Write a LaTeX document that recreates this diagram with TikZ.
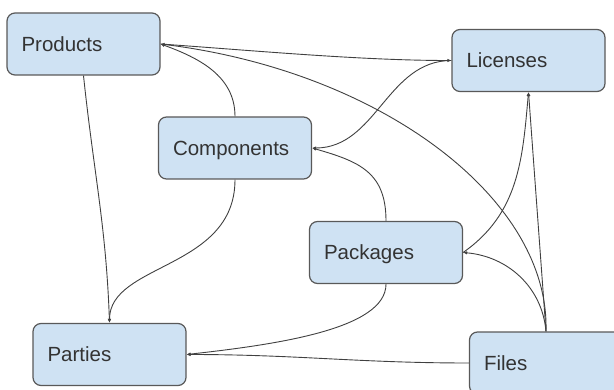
\documentclass[tikz,border=0pt]{standalone}
\usepackage{fontspec}
\setmainfont{Liberation Sans}
\usetikzlibrary{arrows.meta}
\definecolor{boxfill}{HTML}{CFE2F3}
\definecolor{boxline}{HTML}{595959}
\definecolor{linkcol}{HTML}{404040}
\definecolor{textcol}{HTML}{333333}

\begin{document}
\begin{tikzpicture}[x=1pt, y=1pt,
    box/.style={draw=boxline, line width=1.2pt, fill=boxfill, rounded corners=8pt,
      text=textcol, font=\fontsize{20.5}{24}\selectfont, text width=124pt, align=left,
      inner xsep=14.5pt, inner ysep=0pt, minimum height=62pt,
      text height=14.7pt, text depth=0pt},
    link/.style={draw=linkcol, line width=0.9pt, -{Latex[length=4pt,width=3.5pt]}}]
   \useasboundingbox (0,0) rectangle (614,389);
   \clip (0,0) rectangle (614,389);
   % tables
   \node[box] (Prod) at (83.5,345) {Products};
   \node[box] (Comp) at (235,241) {Components};
   \node[box] (Lic) at (528.5,328.5) {Licenses};
   \node[box] (Pkg) at (386,136.5) {Packages};
   \node[box] (Part) at (109.5,34.5) {Parties};
   \node[box] (File) at (546,26) {Files};
   % references
   \draw[link] (Comp.north) to[out=90,in=-20] (Prod.east);
   \draw[link] (Prod.east) to[out=-4,in=180,looseness=0.8] (Lic.west);
   \draw[link] (File.north) .. controls +(4,133) and +(220,-27) .. (Prod.east);
   \draw[link] (Lic.west) to[out=180,in=0] (Comp.east);
   \draw[link] (Pkg.north) to[out=90,in=-16,looseness=1.2] (Comp.east);
   \draw[link] (Pkg.east) to[out=35,in=-95] (Lic.south);
   \draw[link] (File.north) to[out=95,in=-5] (Pkg.east);
   \draw[link] (File.north) -- (Lic.south);
   \draw[link] (Prod.south) to[out=-84,in=92] (Part.north);
   \draw[link] (Comp.south) .. controls +(0,-90) and +(0,60) .. (Part.north);
   \draw[link] (Pkg.south) .. controls +(0,-45) and +(90,10) .. (Part.east);
   \draw[link] (File.west) to[out=180,in=0] (Part.east);
\end{tikzpicture}
\end{document}
